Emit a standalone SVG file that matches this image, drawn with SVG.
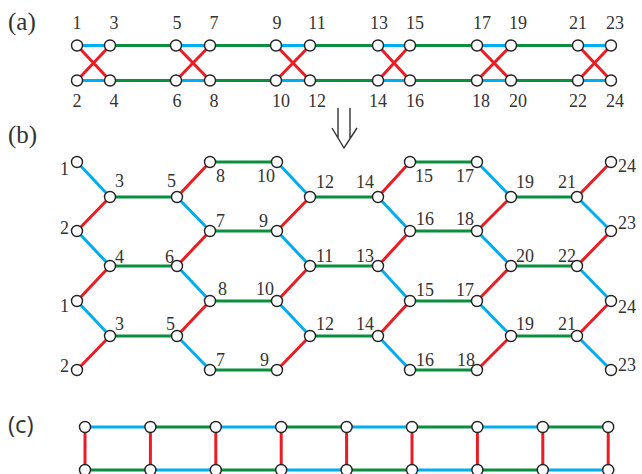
<svg xmlns="http://www.w3.org/2000/svg" width="642" height="474" viewBox="0 0 642 474">
<style>
.e{stroke-width:3;fill:none;stroke-linecap:butt}
.b{stroke:#00AEEF}.g{stroke:#0B8E3E}.r{stroke:#EC1C24}
circle{fill:#fff;stroke:#222;stroke-width:1.4}
.t text{font-family:'Liberation Serif',serif;font-size:18px;fill:#333}
.m{text-anchor:middle}.s{text-anchor:start}.en{text-anchor:end}
.p{font-family:'Liberation Serif',serif;font-size:25px;fill:#333}
.pc{font-family:'Open Sans',sans-serif;font-size:24px;fill:#333}
</style>
<defs><circle id="n" r="5.5"/></defs>
<rect width="642" height="474" fill="#fff"/>
<text class="p" x="8" y="30">(a)</text>
<text class="p" x="8" y="143">(b)</text>
<text class="pc" x="8" y="433">(c)</text>
<g id="arrow" fill="none" stroke="#333" stroke-width="1.4">
<path d="M338 108V138M350 108V138M332 128L344 148L357 128"/>
</g>
<g id="connectors">
<path class="e b" d="M77 45.5H110M176 45.5H210M276 45.5H310M378 45.5H410M477 45.5H511M578 45.5H611M77 80.5H110M176 80.5H210M276 80.5H310M378 80.5H410M477 80.5H511M578 80.5H611"/>
<path class="e g" d="M110 45.5H176M210 45.5H276M310 45.5H378M410 45.5H477M511 45.5H578M110 80.5H176M210 80.5H276M310 80.5H378M410 80.5H477M511 80.5H578"/>
<path class="e r" d="M77 45.5L110 80.5M77 80.5L110 45.5M176 45.5L210 80.5M176 80.5L210 45.5M276 45.5L310 80.5M276 80.5L310 45.5M378 45.5L410 80.5M378 80.5L410 45.5M477 45.5L511 80.5M477 80.5L511 45.5M578 45.5L611 80.5M578 80.5L611 45.5"/>
<path class="e g" d="M210 162H277M410 162H477M110 197H177M310 197H378M511 197H577M210 231H277M410 231H477M110 266H177M310 266H378M511 266H577M210 301H277M410 301H477M110 336H177M310 336H378M511 336H577M210 370H277M410 370H477"/>
<path class="e b" d="M77 162L110 197M77 231L110 266M77 301L110 336M177 197L210 231M177 266L210 301M177 336L210 370M277 162L310 197M277 231L310 266M277 301L310 336M378 197L410 231M378 266L410 301M378 336L410 370M477 162L511 197M477 231L511 266M477 301L511 336M577 197L611 231M577 266L611 301M577 336L611 370"/>
<path class="e r" d="M77 231L110 197M110 266L77 301M110 336L77 370M177 197L210 162M177 266L210 231M210 301L177 336M310 197L277 231M310 266L277 301M310 336L277 370M378 197L410 162M410 231L378 266M410 301L378 336M511 197L477 231M511 266L477 301M511 336L477 370M577 197L611 162M611 231L577 266M611 301L577 336"/>
<path class="e b" d="M85 427H150.4M215.8 427H281.2M346.6 427H412M477.4 427H542.8M150.4 470H215.8M281.2 470H346.6M412 470H477.4M542.8 470H608.2"/>
<path class="e g" d="M150.4 427H215.8M281.2 427H346.6M412 427H477.4M542.8 427H608.2M85 470H150.4M215.8 470H281.2M346.6 470H412M477.4 470H542.8"/>
<path class="e r" d="M85 427V470M150.4 427V470M215.8 427V470M281.2 427V470M346.6 427V470M412 427V470M477.4 427V470M542.8 427V470M608.2 427V470"/>
</g>
<g class="t">
<g id="a1"><use href="#n" x="77" y="45.5"/><text class="m" x="77" y="29">1</text></g>
<g id="a3"><use href="#n" x="110" y="45.5"/><text class="m" x="114" y="29">3</text></g>
<g id="a5"><use href="#n" x="176" y="45.5"/><text class="m" x="177" y="29">5</text></g>
<g id="a7"><use href="#n" x="210" y="45.5"/><text class="m" x="214" y="29">7</text></g>
<g id="a9"><use href="#n" x="276" y="45.5"/><text class="m" x="277" y="29">9</text></g>
<g id="a11"><use href="#n" x="310" y="45.5"/><text class="m" x="317" y="29">11</text></g>
<g id="a13"><use href="#n" x="378" y="45.5"/><text class="m" x="379" y="29">13</text></g>
<g id="a15"><use href="#n" x="410" y="45.5"/><text class="m" x="415" y="29">15</text></g>
<g id="a17"><use href="#n" x="477" y="45.5"/><text class="m" x="482" y="29">17</text></g>
<g id="a19"><use href="#n" x="511" y="45.5"/><text class="m" x="518" y="29">19</text></g>
<g id="a21"><use href="#n" x="578" y="45.5"/><text class="m" x="578" y="29">21</text></g>
<g id="a23"><use href="#n" x="611" y="45.5"/><text class="m" x="615" y="29">23</text></g>
<g id="a2"><use href="#n" x="77" y="80.5"/><text class="m" x="77" y="107">2</text></g>
<g id="a4"><use href="#n" x="110" y="80.5"/><text class="m" x="114" y="107">4</text></g>
<g id="a6"><use href="#n" x="176" y="80.5"/><text class="m" x="177" y="107">6</text></g>
<g id="a8"><use href="#n" x="210" y="80.5"/><text class="m" x="214" y="107">8</text></g>
<g id="a10"><use href="#n" x="276" y="80.5"/><text class="m" x="281" y="107">10</text></g>
<g id="a12"><use href="#n" x="310" y="80.5"/><text class="m" x="317" y="107">12</text></g>
<g id="a14"><use href="#n" x="378" y="80.5"/><text class="m" x="378" y="107">14</text></g>
<g id="a16"><use href="#n" x="410" y="80.5"/><text class="m" x="415" y="107">16</text></g>
<g id="a18"><use href="#n" x="477" y="80.5"/><text class="m" x="481" y="107">18</text></g>
<g id="a20"><use href="#n" x="511" y="80.5"/><text class="m" x="518" y="107">20</text></g>
<g id="a22"><use href="#n" x="578" y="80.5"/><text class="m" x="578" y="107">22</text></g>
<g id="a24"><use href="#n" x="611" y="80.5"/><text class="m" x="615" y="107">24</text></g>
<g id="b1-1"><use href="#n" x="77" y="162"/><text class="en" x="69" y="175">1</text></g>
<g id="b1-8"><use href="#n" x="210" y="162"/><text class="s" x="216" y="182">8</text></g>
<g id="b1-10"><use href="#n" x="277" y="162"/><text class="en" x="275" y="182">10</text></g>
<g id="b1-15"><use href="#n" x="410" y="162"/><text class="s" x="415" y="182">15</text></g>
<g id="b1-17"><use href="#n" x="477" y="162"/><text class="en" x="474" y="182">17</text></g>
<g id="b1-24"><use href="#n" x="611" y="162"/><text class="s" x="618" y="172">24</text></g>
<g id="b2-3"><use href="#n" x="110" y="197"/><text class="s" x="115" y="187">3</text></g>
<g id="b2-5"><use href="#n" x="177" y="197"/><text class="en" x="176" y="187">5</text></g>
<g id="b2-12"><use href="#n" x="310" y="197"/><text class="s" x="316" y="188">12</text></g>
<g id="b2-14"><use href="#n" x="378" y="197"/><text class="en" x="374" y="188">14</text></g>
<g id="b2-19"><use href="#n" x="511" y="197"/><text class="s" x="516" y="188">19</text></g>
<g id="b2-21"><use href="#n" x="577" y="197"/><text class="en" x="576" y="188">21</text></g>
<g id="b3-2"><use href="#n" x="77" y="231"/><text class="en" x="69" y="234">2</text></g>
<g id="b3-7"><use href="#n" x="210" y="231"/><text class="s" x="216" y="227">7</text></g>
<g id="b3-9"><use href="#n" x="277" y="231"/><text class="en" x="268" y="227">9</text></g>
<g id="b3-16"><use href="#n" x="410" y="231"/><text class="s" x="416" y="225">16</text></g>
<g id="b3-18"><use href="#n" x="477" y="231"/><text class="en" x="474" y="225">18</text></g>
<g id="b3-23"><use href="#n" x="611" y="231"/><text class="s" x="618" y="229">23</text></g>
<g id="b4-4"><use href="#n" x="110" y="266"/><text class="s" x="115" y="263">4</text></g>
<g id="b4-6"><use href="#n" x="177" y="266"/><text class="en" x="174" y="263">6</text></g>
<g id="b4-11"><use href="#n" x="310" y="266"/><text class="s" x="316" y="262">11</text></g>
<g id="b4-13"><use href="#n" x="378" y="266"/><text class="en" x="374" y="262">13</text></g>
<g id="b4-20"><use href="#n" x="511" y="266"/><text class="s" x="516" y="262">20</text></g>
<g id="b4-22"><use href="#n" x="577" y="266"/><text class="en" x="576" y="262">22</text></g>
<g id="b5-1"><use href="#n" x="77" y="301"/><text class="en" x="69" y="312">1</text></g>
<g id="b5-8"><use href="#n" x="210" y="301"/><text class="s" x="218" y="295">8</text></g>
<g id="b5-10"><use href="#n" x="277" y="301"/><text class="en" x="274" y="295">10</text></g>
<g id="b5-15"><use href="#n" x="410" y="301"/><text class="s" x="416" y="296">15</text></g>
<g id="b5-17"><use href="#n" x="477" y="301"/><text class="en" x="474" y="296">17</text></g>
<g id="b5-24"><use href="#n" x="611" y="301"/><text class="s" x="618" y="313">24</text></g>
<g id="b6-3"><use href="#n" x="110" y="336"/><text class="s" x="115" y="330">3</text></g>
<g id="b6-5"><use href="#n" x="177" y="336"/><text class="en" x="175" y="330">5</text></g>
<g id="b6-12"><use href="#n" x="310" y="336"/><text class="s" x="316" y="330">12</text></g>
<g id="b6-14"><use href="#n" x="378" y="336"/><text class="en" x="374" y="330">14</text></g>
<g id="b6-19"><use href="#n" x="511" y="336"/><text class="s" x="516" y="330">19</text></g>
<g id="b6-21"><use href="#n" x="577" y="336"/><text class="en" x="576" y="330">21</text></g>
<g id="b7-2"><use href="#n" x="77" y="370"/><text class="en" x="69" y="372">2</text></g>
<g id="b7-7"><use href="#n" x="210" y="370"/><text class="s" x="216" y="366">7</text></g>
<g id="b7-9"><use href="#n" x="277" y="370"/><text class="en" x="269" y="366">9</text></g>
<g id="b7-16"><use href="#n" x="410" y="370"/><text class="s" x="416" y="366">16</text></g>
<g id="b7-18"><use href="#n" x="477" y="370"/><text class="en" x="475" y="366">18</text></g>
<g id="b7-23"><use href="#n" x="611" y="370"/><text class="s" x="618" y="371">23</text></g>
</g>
<g id="c1"><use href="#n" x="85" y="427"/></g>
<g id="c2"><use href="#n" x="150.4" y="427"/></g>
<g id="c3"><use href="#n" x="215.8" y="427"/></g>
<g id="c4"><use href="#n" x="281.2" y="427"/></g>
<g id="c5"><use href="#n" x="346.6" y="427"/></g>
<g id="c6"><use href="#n" x="412" y="427"/></g>
<g id="c7"><use href="#n" x="477.4" y="427"/></g>
<g id="c8"><use href="#n" x="542.8" y="427"/></g>
<g id="c9"><use href="#n" x="608.2" y="427"/></g>
<g id="c10"><use href="#n" x="85" y="470"/></g>
<g id="c11"><use href="#n" x="150.4" y="470"/></g>
<g id="c12"><use href="#n" x="215.8" y="470"/></g>
<g id="c13"><use href="#n" x="281.2" y="470"/></g>
<g id="c14"><use href="#n" x="346.6" y="470"/></g>
<g id="c15"><use href="#n" x="412" y="470"/></g>
<g id="c16"><use href="#n" x="477.4" y="470"/></g>
<g id="c17"><use href="#n" x="542.8" y="470"/></g>
<g id="c18"><use href="#n" x="608.2" y="470"/></g>
</svg>
